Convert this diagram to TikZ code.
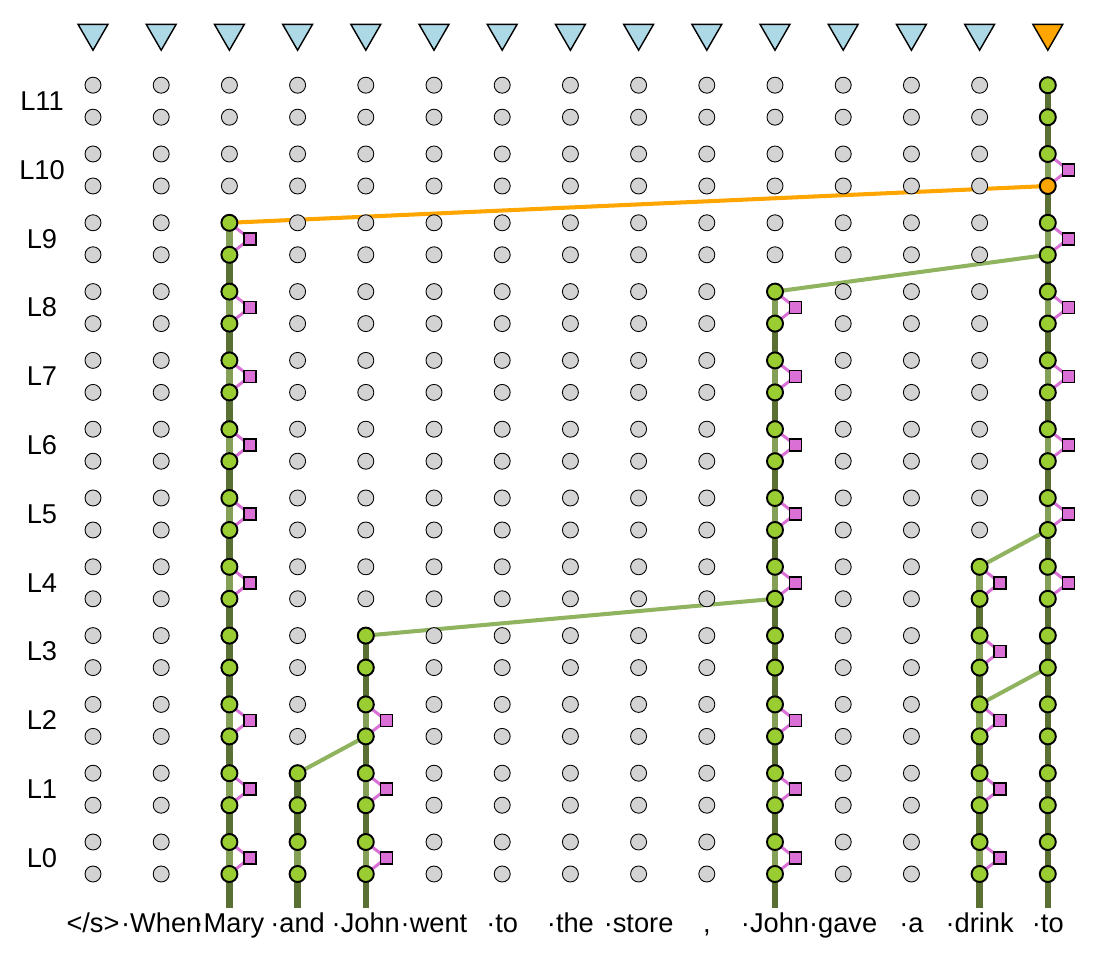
\documentclass[tikz,border=0pt]{standalone}
\usepackage{fontspec}
\setmainfont{Liberation Sans}
\usetikzlibrary{shapes.geometric,backgrounds}
\definecolor{dotgray}{HTML}{D3D3D3}
\definecolor{actgreen}{HTML}{9ACD32}
\definecolor{hotorange}{HTML}{FFA500}
\definecolor{mlppink}{HTML}{DA70D6}
\definecolor{tokblue}{HTML}{ADD8E6}
\definecolor{residdark}{HTML}{5A7033}
\definecolor{residlight}{HTML}{84A056}
\definecolor{linkgreen}{HTML}{8FB35E}

\begin{document}
\begin{tikzpicture}[x=0.02cm,y=-0.02cm,font=\fontsize{15.5}{18}\selectfont,
    off/.style={circle,draw=black,line width=0.5pt,fill=dotgray,minimum size=0.32cm,inner sep=0pt},
    on/.style={circle,draw=black,line width=1.1pt,fill=actgreen,minimum size=0.32cm,inner sep=0pt},
    hot/.style={on,fill=hotorange},
    mlp/.style={rectangle,draw=black,line width=0.9pt,fill=mlppink,minimum size=0.24cm,inner sep=0pt},
    tok/.style={regular polygon,regular polygon sides=3,shape border rotate=180,draw=black,line width=0.8pt,fill=tokblue,minimum size=0.69cm,inner sep=0pt},
    resid/.style={line width=3.6pt,draw=residdark},
    residlt/.style={line width=3.6pt,draw=residlight},
    link/.style={line width=2.3pt,draw=linkgreen},
    mlplink/.style={line width=1.7pt,draw=mlppink}]
        \pgfmathsetmacro\dx{68.2}
        \pgfmathsetmacro\dl{68.8}
        \useasboundingbox (0,0) rectangle (1106,962);
        \foreach \c/\last in {0/-1,1/-1,2/19,3/3,4/7,5/-1,6/-1,7/-1,8/-1,9/-1,10/17,11/-1,12/-1,13/9,14/23} {
            \foreach \r in {0,...,23} {
                \pgfmathsetmacro\xx{93+\dx*\c}
                \pgfmathsetmacro\yy{874-\dl*int(\r/2)-32*mod(\r,2)}
                \ifnum\r>\last \def\dotst{off}\else\def\dotst{on}\fi
                \ifnum\numexpr100*\c+\r\relax=1420 \def\dotst{hot}\fi
                \node[\dotst] (d-\c-\r) at (\xx,\yy) {};
            }
        }
        \foreach \c/\l in {2/0,2/1,2/2,2/4,2/5,2/6,2/7,2/8,2/9,4/0,4/1,4/2,10/0,10/1,10/2,10/4,10/5,10/6,10/7,10/8,13/0,13/1,13/2,13/3,13/4,14/4,14/5,14/6,14/7,14/8,14/9,14/10}
            \node[mlp] (m-\c-\l) at (113.5+\dx*\c,858-\dl*\l) {};
        \foreach \c in {2,3,4,10,13,14}
            \coordinate (foot-\c) at (93+\dx*\c,908);
        \foreach \c in {0,...,13}
            \node[tok] (in-\c) at (93+\dx*\c,33) {};
        \node[tok,fill=hotorange] (in-14) at (93+\dx*14,33) {};
        \foreach \l in {0,...,11}
            \node (lab-\l) at (42,858-\dl*\l) {L\l};
        \foreach \c/\w in {0/{</s>},1/{·When},2/{·Mary},3/{·and},4/{·John},5/{·went},6/{·to},7/{·the},8/{·store},9/{,},10/{·John},11/{·gave},12/{·a},13/{·drink},14/{·to}}
            \node[anchor=base] (w-\c) at (93+\dx*\c,932) {\w};
        \begin{pgfonlayer}{background}
            \foreach \c/\last in {2/19,3/3,4/7,10/17,13/9,14/23}
                \draw[resid] (d-\c-\last.center) -- (foot-\c);
            \draw[residlt] (d-3-1.center) -- (d-3-0.center);
            \foreach \c/\l in {2/0,2/1,2/2,2/4,2/5,2/6,2/7,2/8,2/9,4/0,4/1,4/2,10/0,10/1,10/2,10/4,10/5,10/6,10/7,10/8,13/0,13/1,13/2,13/3,13/4,14/4,14/5,14/6,14/7,14/8,14/9,14/10} {
                \pgfmathtruncatemacro\a{2*\l+1}
                \pgfmathtruncatemacro\b{2*\l}
                \draw[residlt] (d-\c-\a.center) -- (d-\c-\b.center);
                \draw[mlplink] (d-\c-\a.center) -- (m-\c-\l.center) -- (d-\c-\b.center);
            }
            \draw[link] (d-3-3.center) -- (d-4-4.center);
            \draw[link] (d-4-7.center) -- (d-10-8.center);
            \draw[link] (d-13-5.center) -- (d-14-6.center);
            \draw[link] (d-13-9.center) -- (d-14-10.center);
            \draw[link] (d-10-17.center) -- (d-14-18.center);
            \draw[link,draw=hotorange] (d-2-19.center) -- (d-14-20.center);
        \end{pgfonlayer}
    \end{tikzpicture}
\end{document}
